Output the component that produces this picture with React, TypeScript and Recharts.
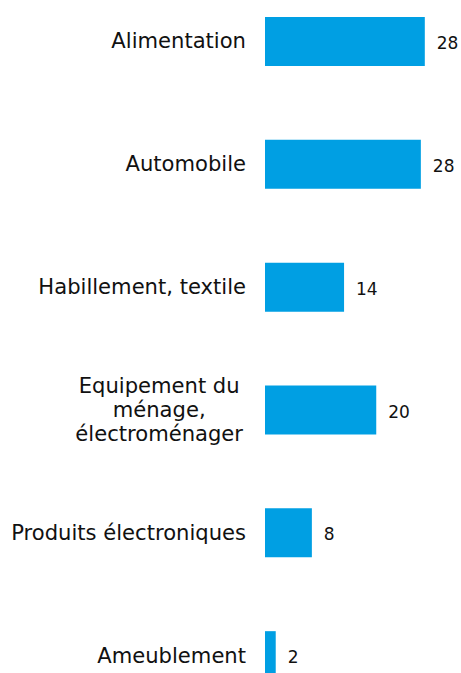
import { BarChart, Bar, XAxis, YAxis, LabelList } from 'recharts';

const categories = [
  'Alimentation',
  'Automobile',
  'Habillement, textile',
  'Equipement du\nménage,\nélectroménager',
  'Produits électroniques',
  'Ameublement',
];
const shares = [28.3, 27.6, 14.0, 19.7, 8.3, 1.9];

const data = categories.map((name, i) => ({ name, value: shares[i] }));

const FONT = '"DejaVu Sans", Verdana, sans-serif';
const BLUE = '#009fe3';
const TEXT = '#111';

let ctx: CanvasRenderingContext2D | null = null;
function measure(text: string, size: number) {
  if (!ctx) ctx = document.createElement('canvas').getContext('2d');
  if (!ctx) return text.length * size * 0.6;
  ctx.font = `${size}px ${FONT}`;
  return ctx.measureText(text).width;
}

function CategoryTick({ x, y, payload }: any) {
  const lines = String(payload.value).split('\n');
  const size = 21.1;
  const right = x - 19;
  if (lines.length === 1) {
    return (
      <text x={right} y={y + 7} textAnchor="end" fontSize={size} fontFamily={FONT} fill={TEXT}>
        {lines[0]}
      </text>
    );
  }
  // multi-line labels are centred inside a block that is right aligned
  const maxW = Math.max(...lines.map(l => measure(l, size)));
  const cx = right - 3 - maxW / 2;
  return (
    <text textAnchor="middle" fontSize={size} fontFamily={FONT} fill={TEXT}>
      {lines.map((l, i) => (
        <tspan key={i} x={cx} y={y + 7 + (i - (lines.length - 1) / 2) * 24}>
          {l}
        </tspan>
      ))}
    </text>
  );
}

function ValueLabel({ x, y, width, height, value }: any) {
  return (
    <text x={x + width + 12} y={y + height / 2 + 7.5} fontSize={17} fontFamily={FONT} fill={TEXT}>
      {Math.round(value)}
    </text>
  );
}

export default function App() {
  return (
    <div style={{ position: 'absolute', left: 0, top: 0, width: 461, height: 673, overflow: 'hidden', background: '#fff' }}>
      <div style={{ position: 'absolute', left: 0, top: -20 }}>
        <BarChart
          width={461}
          height={737}
          data={data}
          layout="vertical"
          margin={{ top: 0, right: 4, bottom: 0, left: 0 }}
        >
          <XAxis type="number" domain={[0, 34]} hide />
          <YAxis
            type="category"
            dataKey="name"
            width={265}
            axisLine={false}
            tickLine={false}
            tickSize={0}
            tickMargin={0}
            interval={0}
            tick={<CategoryTick />}
          />
          <Bar dataKey="value" fill={BLUE} barSize={49} isAnimationActive={false}>
            <LabelList dataKey="value" content={<ValueLabel />} />
          </Bar>
        </BarChart>
      </div>
    </div>
  );
}
